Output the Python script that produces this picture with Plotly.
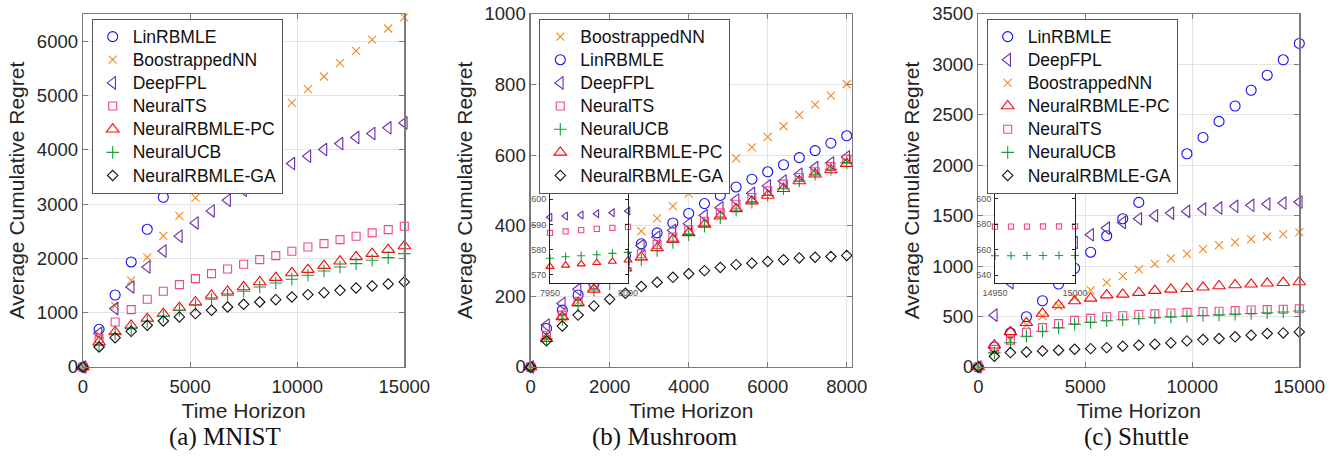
import plotly.graph_objects as go

# ---------------- data ----------------
x_mnist = [0, 750, 1500, 2250, 3000, 3750, 4500, 5250, 6000, 6750, 7500, 8250, 9000, 9750,
           10500, 11250, 12000, 12750, 13500, 14250, 15000]
x_mush = [0, 400, 800, 1200, 1600, 2000, 2400, 2800, 3200, 3600, 4000, 4400, 4800, 5200,
          5600, 6000, 6400, 6800, 7200, 7600, 8000]
x_shut = x_mnist

mnist_lin = [0, 694, 1326, 1934, 2536, 3126, 3700, 4280, 4850, 5420, 5990]
mnist_boot = [0, 600, 1124, 1597, 2020, 2413, 2782, 3120, 3450, 3800, 4100, 4370, 4618, 4864,
              5115, 5349, 5594, 5822, 6030, 6233, 6436]
mnist_fpl = [0, 620, 1075, 1474, 1842, 2137, 2407, 2653, 2874, 3070, 3255, 3420, 3592, 3746,
             3881, 4004, 4114, 4225, 4299, 4404, 4495]
mnist_ts = [0, 520, 829, 1056, 1247, 1394, 1517, 1627, 1719, 1805, 1891, 1977, 2051, 2131,
            2211, 2272, 2346, 2407, 2469, 2530, 2592]
mnist_pc = [0, 460, 645, 768, 890, 983, 1093, 1197, 1320, 1394, 1474, 1566, 1646, 1732,
            1793, 1867, 1947, 2027, 2088, 2162, 2229]
mnist_ucb = [0, 400, 614, 706, 841, 933, 1044, 1136, 1247, 1320, 1394, 1474, 1548, 1615,
             1689, 1769, 1842, 1904, 1965, 2014, 2088]
mnist_ga = [0, 368, 540, 657, 768, 847, 921, 983, 1044, 1105, 1155, 1197, 1240, 1290,
            1333, 1369, 1412, 1455, 1492, 1529, 1566]

mush_boot = [0, 81, 140, 185, 235, 280, 335, 385, 421, 456, 491, 525, 556, 591,
             622, 652, 682, 714, 743, 769, 801]
mush_lin = [0, 109, 161, 204, 235, 270, 315, 349, 380, 408, 435, 463, 486, 510,
            532, 553, 573, 593, 613, 634, 655]
mush_fpl = [0, 119, 180, 220, 255, 290, 320, 344, 368, 387, 406, 429, 451, 473,
            492, 513, 527, 546, 565, 578, 595]
mush_ts = [0, 90, 147, 185, 233, 270, 300, 321, 347, 368, 389, 413, 437, 461,
           480, 499, 518, 537, 553, 568, 589]
mush_ucb = [0, 80, 135, 173, 218, 237, 280, 304, 330, 353, 375, 399, 423, 444,
            467, 486, 505, 527, 546, 560, 579]
mush_pc = [0, 80, 142, 182, 220, 250, 280, 311, 337, 361, 380, 404, 427, 448,
           470, 486, 505, 527, 546, 558, 576]
mush_ga = [0, 74, 116, 147, 173, 192, 209, 228, 240, 254, 264, 273, 282, 290,
           294, 299, 304, 309, 311, 313, 316]

shut_lin = [0, 199, 338, 498, 657, 823, 979, 1138, 1301, 1470, 1632, 1798, 1951, 2114,
            2276, 2435, 2588, 2744, 2893, 3046, 3208]
shut_fpl = [0, 514, 836, 1000, 1100, 1180, 1234, 1311, 1377, 1433, 1470, 1500, 1526, 1543,
            1566, 1576, 1593, 1603, 1616, 1626, 1636]
shut_boot = [0, 149, 265, 415, 504, 604, 687, 763, 836, 902, 969, 1022, 1078, 1121,
             1168, 1208, 1238, 1267, 1294, 1317, 1337]
shut_pc = [0, 216, 348, 438, 531, 614, 654, 680, 713, 720, 737, 757, 770, 776,
           790, 803, 813, 820, 830, 836, 843]
shut_ts = [0, 175, 265, 340, 390, 430, 462, 482, 498, 508, 520, 527, 535, 542,
           549, 553, 559, 565, 569, 573, 578]
shut_ucb = [0, 140, 240, 305, 355, 388, 425, 442, 458, 468, 478, 490, 497, 504,
            510, 517, 524, 530, 538, 545, 555]
shut_ga = [0, 106, 143, 149, 159, 166, 176, 182, 192, 206, 216, 226, 239, 259,
           272, 282, 299, 315, 332, 338, 348]

inset_x_mush = [7950, 7960, 7970, 7980, 7990, 8000]
inset_mush_fpl = [592.8, 593.3, 593.7, 594.2, 594.6, 595.3]
inset_mush_ts = [586.6, 587.2, 587.7, 588.2, 588.6, 589.0]
inset_mush_ucb = [576.6, 577.2, 577.6, 578.0, 578.5, 578.9]
inset_mush_pc = [573.3, 573.8, 574.3, 574.8, 575.3, 575.8]

inset_x_shut = [14950, 14960, 14970, 14980, 14990, 15000]
inset_shut_ts = [578.1, 578.2, 578.2, 578.3, 578.3, 578.4]
inset_shut_ucb = [555.4, 555.4, 555.5, 555.5, 555.6, 555.6]

captions = ["(a) MNIST", "(b) Mushroom", "(c) Shuttle"]

# ---------------- styles ----------------
STY = {
    "LinRBMLE": dict(symbol="circle-open", color="#1010F5", size=10),
    "BoostrappedNN": dict(symbol="x-thin-open", color="#F5891E", size=8),
    "DeepFPL": dict(symbol="triangle-left-open", color="#6B2AAE", size=11),
    "NeuralTS": dict(symbol="square-open", color="#F2468A", size=8),
    "NeuralRBMLE-PC": dict(symbol="triangle-up-open", color="#F50A0A", size=11),
    "NeuralUCB": dict(symbol="cross-thin-open", color="#12A03A", size=9),
    "NeuralRBMLE-GA": dict(symbol="diamond-open", color="#111111", size=8),
}

fig = go.Figure()


def add(name, xs, ys, xa, ya, legend, show=True, scale=1.0):
    s = STY[name]
    fig.add_trace(go.Scatter(
        x=xs[:len(ys)], y=ys, mode="markers",
        name="<span style='font-size:17.5px'>" + name + "</span>",
        xaxis=xa, yaxis=ya, legend=legend, showlegend=show, cliponaxis=False,
        hoverinfo="skip",
        marker=dict(symbol=s["symbol"], size=s["size"] * scale, color=s["color"],
                    line=dict(color=s["color"], width=1.1)),
    ))


# panel 1
for n, ys in [("LinRBMLE", mnist_lin), ("BoostrappedNN", mnist_boot), ("DeepFPL", mnist_fpl),
              ("NeuralTS", mnist_ts), ("NeuralRBMLE-PC", mnist_pc), ("NeuralUCB", mnist_ucb),
              ("NeuralRBMLE-GA", mnist_ga)]:
    add(n, x_mnist, ys, "x", "y", "legend")
# panel 2
for n, ys in [("BoostrappedNN", mush_boot), ("LinRBMLE", mush_lin), ("DeepFPL", mush_fpl),
              ("NeuralTS", mush_ts), ("NeuralUCB", mush_ucb), ("NeuralRBMLE-PC", mush_pc),
              ("NeuralRBMLE-GA", mush_ga)]:
    add(n, x_mush, ys, "x2", "y2", "legend2")
# panel 3
for n, ys in [("LinRBMLE", shut_lin), ("DeepFPL", shut_fpl), ("BoostrappedNN", shut_boot),
              ("NeuralRBMLE-PC", shut_pc), ("NeuralTS", shut_ts), ("NeuralUCB", shut_ucb),
              ("NeuralRBMLE-GA", shut_ga)]:
    add(n, x_shut, ys, "x3", "y3", "legend3")
# insets
for n, ys in [("DeepFPL", inset_mush_fpl), ("NeuralTS", inset_mush_ts),
              ("NeuralUCB", inset_mush_ucb), ("NeuralRBMLE-PC", inset_mush_pc)]:
    add(n, inset_x_mush, ys, "x4", "y4", "legend", show=False, scale=0.65)
for n, ys in [("NeuralTS", inset_shut_ts), ("NeuralUCB", inset_shut_ucb)]:
    add(n, inset_x_shut, ys, "x5", "y5", "legend", show=False, scale=0.65)

W, H = 1336, 460
FONT = "Liberation Sans, Arial, sans-serif"
TXT = "#262626"


def px_x(a, b):
    return [a / W, b / W]


def px_y(top, bottom):
    return [1 - bottom / H, 1 - top / H]


def main_axis(domain, rng, dtick, title, anchor, standoff, lstand):
    return dict(domain=domain, range=rng, dtick=dtick, tick0=0, tickformat="d",
                showgrid=True, gridcolor="#E3E3E3", gridwidth=1, zeroline=False,
                showline=True, linecolor="#7A7A7A", linewidth=1.3, mirror="ticks",
                ticks="inside", ticklen=5, tickcolor="#7A7A7A", tickwidth=1,
                tickfont=dict(family=FONT, size=18.5, color=TXT), automargin=False,
                ticklabelstandoff=lstand,
                title=dict(text=title, font=dict(family=FONT, size=21, color=TXT), standoff=standoff),
                anchor=anchor, fixedrange=True)


def inset_axis(domain, rng, tickvals, anchor):
    return dict(domain=domain, range=rng, tickmode="array", tickvals=tickvals,
                ticktext=[str(v) for v in tickvals], automargin=False,
                showgrid=False, zeroline=False, showline=True, linecolor="#222222",
                linewidth=1, mirror="ticks", ticks="inside", ticklen=3, tickcolor="#222222",
                tickfont=dict(family=FONT, size=9, color="#555555"), anchor=anchor,
                ticklabelstandoff=1, fixedrange=True)


ydom = px_y(14, 367)
layout = dict(
    width=W, height=H, margin=dict(l=0, r=0, t=0, b=0, autoexpand=False),
    paper_bgcolor="white", plot_bgcolor="white", hovermode=False,
    xaxis=main_axis(px_x(83, 404.3), [0, 15000], 5000, "Time Horizon", "y", 7, 2),
    yaxis=main_axis(ydom, [0, 6500], 1000, "Average Cumulative Regret", "x", 6, 0),
    xaxis2=main_axis(px_x(530.7, 852), [0, 8134], 2000, "Time Horizon", "y2", 7, 2),
    yaxis2=main_axis(ydom, [0, 1000], 200, "Average Cumulative Regret", "x2", 6, 0),
    xaxis3=main_axis(px_x(978.3, 1299.3), [0, 15000], 5000, "Time Horizon", "y3", 7, 2),
    yaxis3=main_axis(ydom, [0, 3500], 500, "Average Cumulative Regret", "x3", 6, 0),
    xaxis4=inset_axis(px_x(550, 628), [7950, 8000], [7950, 8000], "y4"),
    yaxis4=inset_axis(px_y(193, 283), [566.8, 602.4], [570, 580, 590, 600], "x4"),
    xaxis5=inset_axis(px_x(995, 1075), [14950, 15000], [14950, 15000], "y5"),
    yaxis5=inset_axis(px_y(193, 283), [534, 604.5], [540, 560, 580, 600], "x5"),
)

leg_common = dict(bgcolor="white", bordercolor="#555555", borderwidth=1,
                  font=dict(family=FONT, size=15.5, color="#111111"),
                  xanchor="left", yanchor="top", tracegroupgap=0, itemclick=False,
                  itemdoubleclick=False)
layout["legend"] = dict(x=91.7 / W, y=1 - 19 / H, **leg_common)
layout["legend2"] = dict(x=539.3 / W, y=1 - 19 / H, **leg_common)
layout["legend3"] = dict(x=986.7 / W, y=1 - 19 / H, **leg_common)

cap_x = [224.5, 665, 1136]
layout["annotations"] = [
    dict(text=c, x=cx / W, y=1 - 437 / H, xref="paper", yref="paper", showarrow=False,
         xanchor="center", yanchor="middle",
         font=dict(family="Liberation Serif, Times New Roman, serif", size=25, color="#111111"))
    for c, cx in zip(captions, cap_x)
]

fig.update_layout(**layout)
fig.write_html("out.html", config={"displayModeBar": False, "staticPlot": True},
               post_script="document.body.style.margin='0px';")
